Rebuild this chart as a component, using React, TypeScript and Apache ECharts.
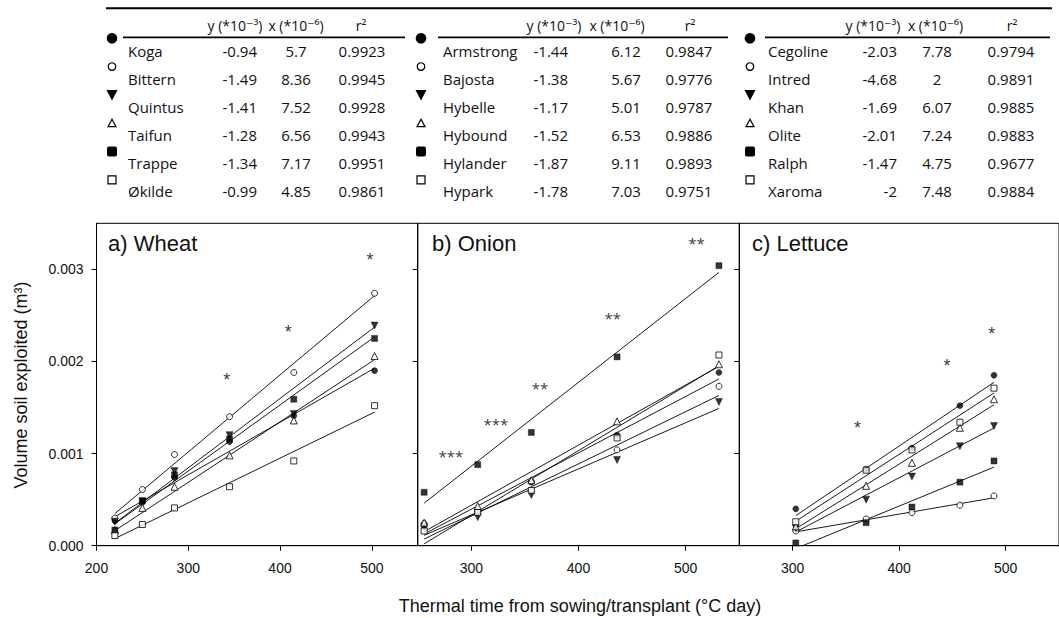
import React, { useEffect, useRef } from 'react';
import * as echarts from 'echarts';

// ---------- Data ----------
const wheatX = [220, 250, 285, 345, 415, 503];
const onionX = [256, 306, 356, 436, 531];
const lettuceX = [303, 369, 412, 457, 489];

// cultivar order per crop: filled circle, open circle, tri-down, tri-up, filled square, open square
const wheatNames = ['Koga', 'Bittern', 'Quintus', 'Taifun', 'Trappe', 'Økilde'];
const wheatA = ['-0.94', '-1.49', '-1.41', '-1.28', '-1.34', '-0.99'];
const wheatB = ['5.7', '8.36', '7.52', '6.56', '7.17', '4.85'];
const wheatR2 = ['0.9923', '0.9945', '0.9928', '0.9943', '0.9951', '0.9861'];

const onionNames = ['Armstrong', 'Bajosta', 'Hybelle', 'Hybound', 'Hylander', 'Hypark'];
const onionA = ['-1.44', '-1.38', '-1.17', '-1.52', '-1.87', '-1.78'];
const onionB = ['6.12', '5.67', '5.01', '6.53', '9.11', '7.03'];
const onionR2 = ['0.9847', '0.9776', '0.9787', '0.9886', '0.9893', '0.9751'];

const lettuceNames = ['Cegoline', 'Intred', 'Khan', 'Olite', 'Ralph', 'Xaroma'];
const lettuceA = ['-2.03', '-4.68', '-1.69', '-2.01', '-1.47', '-2'];
const lettuceB = ['7.78', '2', '6.07', '7.24', '4.75', '7.48'];
const lettuceR2 = ['0.9794', '0.9891', '0.9885', '0.9883', '0.9677', '0.9884'];

const wheatKoga = [0.00027, 0.00047, 0.00074, 0.00113, 0.00141, 0.0019];
const wheatBittern = [0.0003, 0.00061, 0.00099, 0.0014, 0.00188, 0.00274];
const wheatQuintus = [0.00026, 0.00048, 0.00081, 0.0012, 0.00143, 0.00239];
const wheatTaifun = [0.00017, 0.00041, 0.00064, 0.00098, 0.00136, 0.00206];
const wheatTrappe = [0.00017, 0.00049, 0.00077, 0.00116, 0.00159, 0.00225];
const wheatOkilde = [0.00011, 0.00023, 0.00041, 0.00064, 0.00092, 0.00152];

const onionArmstrong = [0.00021, 0.00037, 0.00069, 0.0012, 0.00188];
const onionBajosta = [0.00024, 0.00038, 0.0007, 0.00104, 0.00173];
const onionHybelle = [0.0002, 0.00031, 0.00055, 0.00093, 0.00156];
const onionHybound = [0.00025, 0.00043, 0.00071, 0.00135, 0.00197];
const onionHylander = [0.00058, 0.00088, 0.00123, 0.00205, 0.00304];
const onionHypark = [0.00016, 0.00036, 0.0006, 0.00117, 0.00207];

const lettuceCegoline = [0.0004, 0.00083, 0.00106, 0.00152, 0.00185];
const lettuceIntred = [0.00016, 0.00029, 0.00036, 0.00044, 0.00054];
const lettuceKhan = [0.00019, 0.0005, 0.00075, 0.00108, 0.0013];
const lettuceOlite = [0.00021, 0.00065, 0.0009, 0.00128, 0.00159];
const lettuceRalph = [0.00003, 0.00025, 0.00042, 0.00069, 0.00092];
const lettuceXaroma = [0.00026, 0.00082, 0.00104, 0.00134, 0.00171];

// fitted regression line end points [x0, y0, x1, y1]
const wheatFits = [
  [220, 0.000314, 503, 0.001927],
  [220, 0.000349, 503, 0.002715],
  [220, 0.000244, 503, 0.002373],
  [220, 0.000163, 503, 0.00202],
  [220, 0.000237, 503, 0.002267],
  [220, 0.000077, 503, 0.00145],
];
const onionFits = [
  [256, 0.000127, 531, 0.00181],
  [256, 0.000072, 531, 0.001631],
  [256, 0.000113, 531, 0.00149],
  [256, 0.000152, 531, 0.001947],
  [256, 0.000462, 531, 0.002967],
  [256, 0.00002, 531, 0.001953],
];
const lettuceFits = [
  [303, 0.000327, 489, 0.001774],
  [303, 0.00015, 489, 0.00052],
  [303, 0.000149, 489, 0.001278],
  [303, 0.000184, 489, 0.00153],
  [309.5, 0.0, 489, 0.000853],
  [303, 0.000266, 489, 0.001658],
];

// significance asterisks
const wheatStarX = [342, 409, 498];
const wheatStarY = [0.00184, 0.00236, 0.00315];
const wheatStarText = ['*', '*', '*'];
const onionStarX = [281, 323, 364, 432, 510];
const onionStarY = [0.00102, 0.00137, 0.00176, 0.00252, 0.00333];
const onionStarText = ['***', '***', '**', '**', '**'];
const lettuceStarX = [361, 445, 487];
const lettuceStarY = [0.00132, 0.00199, 0.00234];
const lettuceStarText = ['*', '*', '*'];

const panelTitles = ['a) Wheat', 'b) Onion', 'c) Lettuce'];
const xTicksA = [200, 300, 400, 500];
const xTicksBC = [300, 400, 500];
const yTicks = [0, 0.001, 0.002, 0.003];

// ---------- Styling ----------
const SANS = '"Liberation Sans", Arial, sans-serif';
const TABLE_FONT = '"Open Sans", "DejaVu Sans", sans-serif';
const shapes = ['circle', 'circle', 'triangle', 'triangle', 'rect', 'rect'];
const filled = [true, false, true, false, true, false];
const rotations = [0, 0, 180, 0, 0, 0];
const sizes = [6, 6, 7, 7, 6, 6];

const grids = [
  { left: 96.5, top: 223.3, width: 321.2, height: 322.4 },
  { left: 417.7, top: 223.3, width: 321.6, height: 322.4 },
  { left: 739.3, top: 223.3, width: 322.5, height: 322.4 },
];
const xMins = [200, 250, 250];

function buildOption() {
  const crops = [
    { x: wheatX, vals: [wheatKoga, wheatBittern, wheatQuintus, wheatTaifun, wheatTrappe, wheatOkilde], fits: wheatFits, sx: wheatStarX, sy: wheatStarY, st: wheatStarText, starFont: SANS, starSize: 18 },
    { x: onionX, vals: [onionArmstrong, onionBajosta, onionHybelle, onionHybound, onionHylander, onionHypark], fits: onionFits, sx: onionStarX, sy: onionStarY, st: onionStarText, starFont: TABLE_FONT, starSize: 15 },
    { x: lettuceX, vals: [lettuceCegoline, lettuceIntred, lettuceKhan, lettuceOlite, lettuceRalph, lettuceXaroma], fits: lettuceFits, sx: lettuceStarX, sy: lettuceStarY, st: lettuceStarText, starFont: SANS, starSize: 18 },
  ];

  const series: any[] = [];
  crops.forEach((c, gi) => {
    c.fits.forEach((f) => {
      series.push({
        type: 'line',
        xAxisIndex: gi,
        yAxisIndex: gi,
        data: [[f[0], f[1]], [f[2], f[3]]],
        symbol: 'none',
        lineStyle: { color: '#000', width: 0.9 },
        silent: true,
        z: 2,
      });
    });
    c.vals.forEach((vals, j) => {
      const data = c.x.map((xv, k) => (vals[k] == null ? null : [xv, vals[k]])).filter((d) => d);
      series.push({
        type: 'scatter',
        xAxisIndex: gi,
        yAxisIndex: gi,
        data,
        symbol: shapes[j],
        symbolSize: sizes[j],
        symbolRotate: rotations[j],
        itemStyle: filled[j]
          ? { color: '#000', borderColor: '#000', borderWidth: 0.5 }
          : { color: '#fff', borderColor: '#000', borderWidth: 1 },
        z: 3,
      });
    });
    series.push({
      type: 'scatter',
      xAxisIndex: gi,
      yAxisIndex: gi,
      data: c.sx.map((xv, k) => ({ value: [xv, c.sy[k]], name: c.st[k] })),
      symbolSize: 1,
      itemStyle: { color: 'rgba(0,0,0,0)' },
      label: {
        show: true,
        position: 'inside',
        formatter: (p: any) => p.name,
        color: '#000',
        fontSize: c.starSize,
        fontFamily: c.starFont,
        offset: [0, 4],
      },
      z: 4,
    });
  });

  const xAxis = grids.map((_, i) => ({
    type: 'value',
    gridIndex: i,
    min: xMins[i],
    max: 550,
    axisLine: { show: true, lineStyle: { color: '#000', width: 1 } },
    axisTick: { show: true, length: 5, customValues: i === 0 ? xTicksA : xTicksBC, lineStyle: { color: '#000' } },
    axisLabel: { show: true, customValues: i === 0 ? xTicksA : xTicksBC, color: '#111', fontSize: 14, fontFamily: SANS, margin: 15 },
    splitLine: { show: false },
  }));
  const yAxis = grids.map((_, i) => ({
    type: 'value',
    gridIndex: i,
    min: 0,
    max: 0.0035,
    axisLine: { show: true, lineStyle: { color: '#000', width: 1 } },
    axisTick: { show: true, length: 5, customValues: yTicks, lineStyle: { color: '#000' } },
    axisLabel: { show: i === 0, customValues: yTicks, formatter: (v: number) => v.toFixed(3), color: '#111', fontSize: 14, fontFamily: SANS, margin: 13 },
    splitLine: { show: false },
  }));

  const graphic: any[] = [];
  // panel titles
  const titleX = [108, 432, 752];
  panelTitles.forEach((t, i) => {
    graphic.push({
      type: 'text',
      x: titleX[i],
      y: 243,
      style: { text: t, fill: '#111', font: `22px ${SANS}`, align: 'left', verticalAlign: 'middle', textAlign: 'left', textVerticalAlign: 'middle' },
    });
  });
  // axis titles
  graphic.push({
    type: 'text',
    x: 21,
    y: 385,
    rotation: Math.PI / 2,
    style: { text: 'Volume soil exploited (m³)', fill: '#111', font: `18px ${SANS}`, align: 'center', verticalAlign: 'middle', textAlign: 'center', textVerticalAlign: 'middle' },
  });
  graphic.push({
    type: 'text',
    x: 580,
    y: 606,
    style: { text: 'Thermal time from sowing/transplant (°C day)', fill: '#111', font: `18px ${SANS}`, align: 'center', verticalAlign: 'middle', textAlign: 'center', textVerticalAlign: 'middle' },
  });

  // tables
  graphic.push({ type: 'line', shape: { x1: 106, y1: 8.3, x2: 1052, y2: 8.3 }, style: { stroke: '#000', lineWidth: 2 } });
  const tables = [
    { names: wheatNames, a: wheatA, b: wheatB, r2: wheatR2, mx: 112, nx: 128, yr: 257, xc: 296, rc: 362, yh: 235, xh: 296, rh: 361, u1: 123, u2: 405 },
    { names: onionNames, a: onionA, b: onionB, r2: onionR2, mx: 421, nx: 443, yr: 568, xc: 626, rc: 689, yh: 554, xh: 617, rh: 690, u1: 438, u2: 728 },
    { names: lettuceNames, a: lettuceA, b: lettuceB, r2: lettuceR2, mx: 750, nx: 768, yr: 897, xc: 937, rc: 1011, yh: 873, xh: 935.5, rh: 1012, u1: 765, u2: 1050 },
  ];
  const txt = (text: string, x: number, y: number, align: string, size = 15) => ({
    type: 'text',
    x,
    y,
    style: { text, fill: '#111', font: `${size}px ${TABLE_FONT}`, align, verticalAlign: 'middle', textAlign: align, textVerticalAlign: 'middle' },
  });
  tables.forEach((t) => {
    graphic.push({ type: 'line', shape: { x1: t.u1, y1: 37.3, x2: t.u2, y2: 37.3 }, style: { stroke: '#000', lineWidth: 1.8 } });
    graphic.push(txt('y (*10⁻³)', t.yh, 25, 'center', 14));
    graphic.push(txt('x (*10⁻⁶)', t.xh, 25, 'center', 14));
    graphic.push(txt('r²', t.rh, 25, 'center', 14));
    t.names.forEach((n, i) => {
      const ry = 50.7 + 28 * i;
      graphic.push(txt(n, t.nx, ry, 'left'));
      graphic.push(txt(t.a[i], t.yr, ry, 'right'));
      graphic.push(txt(t.b[i], t.xc, ry, 'center'));
      graphic.push(txt(t.r2[i], t.rc, ry, 'center'));
      const cx = t.mx;
      const cy = 38.3 + 28.3 * i;
      if (i === 0) graphic.push({ type: 'circle', shape: { cx, cy, r: 5.3 }, style: { fill: '#000' } });
      if (i === 1) graphic.push({ type: 'circle', shape: { cx, cy, r: 3.8 }, style: { fill: '#fff', stroke: '#000', lineWidth: 1.2 } });
      if (i === 2) graphic.push({ type: 'polygon', shape: { points: [[cx - 5.5, cy - 5], [cx + 5.5, cy - 5], [cx, cy + 5.5]] }, style: { fill: '#000' } });
      if (i === 3) graphic.push({ type: 'polygon', shape: { points: [[cx - 4, cy + 3.5], [cx + 4, cy + 3.5], [cx, cy - 4]] }, style: { fill: '#fff', stroke: '#000', lineWidth: 1.2 } });
      if (i === 4) graphic.push({ type: 'rect', shape: { x: cx - 5, y: cy - 5, width: 10, height: 10, r: 2 }, style: { fill: '#000' } });
      if (i === 5) graphic.push({ type: 'rect', shape: { x: cx - 4, y: cy - 4, width: 8, height: 8 }, style: { fill: '#fff', stroke: '#000', lineWidth: 1.2 } });
    });
  });

  return {
    animation: false,
    backgroundColor: '#fff',
    grid: grids.map((g) => ({ ...g, show: true, borderColor: '#000', borderWidth: 1, backgroundColor: 'transparent' })),
    xAxis,
    yAxis,
    series,
    graphic,
  };
}

export default function App() {
  const ref = useRef<HTMLDivElement>(null);
  useEffect(() => {
    if (!ref.current) return;
    const chart = echarts.init(ref.current, undefined, { renderer: 'svg' });
    chart.setOption(buildOption() as any);
    return () => chart.dispose();
  }, []);
  return <div ref={ref} style={{ position: 'absolute', left: 0, top: 0, width: 1059, height: 618 }} />;
}
